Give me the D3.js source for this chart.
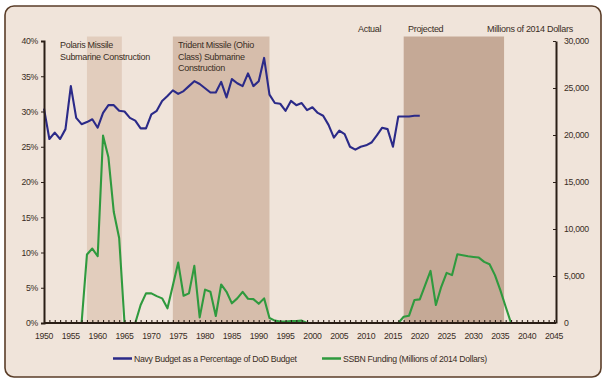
<!DOCTYPE html>
<html><head><meta charset="utf-8">
<script src="https://cdn.jsdelivr.net/npm/d3@7"></script>
<style>
body{margin:0;background:#fff;}
text{font-family:"Liberation Sans",Arial,sans-serif;fill:#3a2d24;letter-spacing:-0.3px;}
</style></head>
<body><svg id="c" width="608" height="383"></svg>
<script>
// ---- data ----
const navyYears = d3.range(1950, 2021);
const navyPct = [30.4,26.1,27.0,26.1,27.5,33.6,29.1,28.2,28.5,28.9,
  27.7,29.8,30.9,30.9,30.1,30.0,29.1,28.7,27.6,27.6,
  29.6,30.1,31.5,32.2,33.0,32.5,32.9,33.6,34.3,33.9,
  33.3,32.7,32.7,34.2,32.0,34.6,34.0,33.6,35.4,33.6,
  34.3,37.6,32.4,31.2,31.1,30.1,31.5,30.9,31.2,30.2,
  30.6,29.8,29.4,28.1,26.3,27.3,26.8,25.0,24.6,25.0,
  25.2,25.6,26.6,27.7,27.5,25.0,29.3,29.3,29.3,29.4,29.4];
const ssbnYears = d3.range(1956, 2038);
const ssbnFunding = [0,0,7280,7920,7100,19930,17630,11800,9040,0,
  0,0,1910,3150,3150,2860,2620,1560,4000,6430,
  2900,3150,6080,600,3550,3320,750,4100,3320,2090,
  2620,3320,2580,2540,2040,2620,530,250,150,150,
  200,200,250,0,0,0,0,0,0,0,
  0,0,0,0,0,0,0,0,0,0,
  0,670,780,2440,2510,4030,5540,1910,3850,5330,
  5090,7310,7200,7100,7030,6960,6500,6250,5090,3500,
  1730,0];
const periodLabels = [["Polaris Missile","Submarine Construction"],["Trident Missile (Ohio","Class) Submarine","Construction"],[]];
const periodStart = [1958, 1974, 2017];
const periodEnd = [1964.5, 1992, 2035.7];
const periodColors = ["#e2cdbd","#d6bdab","#c5a996"];
const xTicks = d3.range(1950, 2046, 5);
const leftTicks = [0,5,10,15,20,25,30,35,40];
const rightTicks = [0,5000,10000,15000,20000,25000,30000];
const seriesNames = ["Navy Budget as a Percentage of DoD Budget","SSBN Funding (Millions of 2014 Dollars)"];
const seriesColors = ["#2b2a88","#2f9a3e"];

// ---- chart ----
const svg = d3.select("#c");
const fs = 9, fsT = 8.7;
const ff = '"Liberation Sans",Arial,sans-serif';
svg.append("rect").attr("x",5).attr("y",6).attr("width",596).attr("height",371)
  .attr("rx",9).attr("fill","#f0e4da").attr("stroke","#5a3d28").attr("stroke-width",1.6);

const x = d3.scaleLinear().domain([1950,2045]).range([44,554]);
const yL = d3.scaleLinear().domain([0,40]).range([323,41]);
const yR = d3.scaleLinear().domain([0,30000]).range([323,41]);
const bandTop = 36.5;

// shaded periods
periodStart.forEach((s,i)=>{
  svg.append("rect").attr("x",x(s)).attr("y",bandTop).attr("width",x(periodEnd[i])-x(s))
    .attr("height",yL(0)-bandTop).attr("fill",periodColors[i]);
});

// period labels
const lab = svg.append("g").attr("font-size",fs);
[[60,48],[178,48]].forEach((p,i)=>{
  periodLabels[i].forEach((t,j)=>{
    lab.append("text").attr("x",p[0]).attr("y",p[1]+j*11.5).text(t);
  });
});
lab.append("text").attr("x",358).attr("y",31.5).text("Actual");
lab.append("text").attr("x",408).attr("y",31.5).text("Projected");
lab.append("text").attr("x",487).attr("y",31.5).text("Millions of 2014 Dollars");

// lines
const navyLine = d3.line().x((d,i)=>x(navyYears[i])).y(d=>yL(d));
const ssbnLine = d3.line().x((d,i)=>x(ssbnYears[i])).y(d=>yR(d));
svg.append("path").attr("d",ssbnLine(ssbnFunding)).attr("fill","none")
  .attr("stroke",seriesColors[1]).attr("stroke-width",2.1).attr("stroke-linejoin","round");
svg.append("path").attr("d",navyLine(navyPct)).attr("fill","none")
  .attr("stroke",seriesColors[0]).attr("stroke-width",2.1).attr("stroke-linejoin","round");

// axes
const axCol = "#2a1e16";
const gx = svg.append("g").attr("transform",`translate(0,${yL(0)})`)
  .call(d3.axisTop(x).tickValues(d3.range(1950,2046,1)).tickSize(3).tickFormat(""));
gx.select(".domain").remove();
gx.selectAll("line").attr("stroke",axCol).attr("stroke-width",1.1);
svg.append("line").attr("x1",44).attr("x2",556).attr("y1",yL(0)).attr("y2",yL(0))
  .attr("stroke",axCol).attr("stroke-width",2);
svg.append("g").selectAll("text").data(xTicks).join("text")
  .attr("x",d=>x(d)).attr("y",yL(0)+16).attr("text-anchor","middle").attr("font-size",fsT).text(d=>d);

const gl = svg.append("g").attr("transform",`translate(44,0)`)
  .call(d3.axisLeft(yL).tickValues(leftTicks).tickSize(3).tickFormat(d=>d+"%"));
gl.select(".domain").attr("stroke",axCol).attr("stroke-width",2);
gl.selectAll("line").attr("stroke",axCol);
gl.selectAll("text").attr("font-size",fsT).attr("font-family",ff).attr("fill","#3a2d24").attr("x",-6);

const gr = svg.append("g").attr("transform",`translate(556,0)`)
  .call(d3.axisRight(yR).tickValues(rightTicks).tickSize(0).tickPadding(8).tickFormat(d3.format(",")));
gr.select(".domain").attr("stroke",axCol).attr("stroke-width",2);
gr.selectAll(".tick").append("line").attr("x1",-3).attr("x2",0).attr("stroke",axCol);
gr.selectAll("text").attr("font-size",fsT).attr("font-family",ff).attr("fill","#3a2d24");

// legend
const lg = svg.append("g").attr("font-size",fsT);
[[113,134],[322,343]].forEach((p,i)=>{
  lg.append("line").attr("x1",p[0]).attr("x2",p[0]+19).attr("y1",358.5).attr("y2",358.5)
    .attr("stroke",seriesColors[i]).attr("stroke-width",2.5);
  lg.append("text").attr("x",p[1]).attr("y",361.8).text(seriesNames[i]);
});
</script></body></html>
